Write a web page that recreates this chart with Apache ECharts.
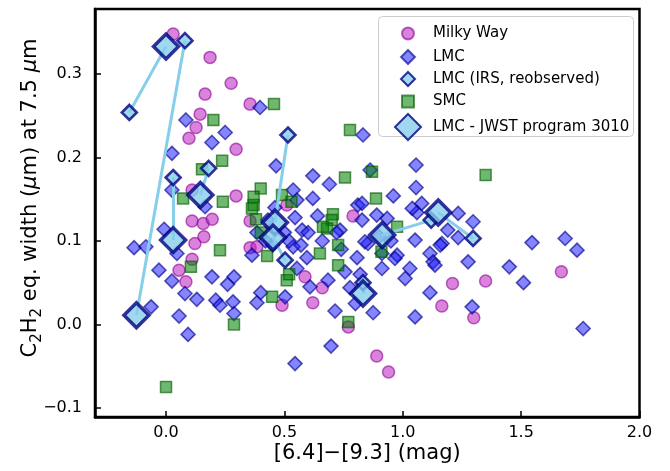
<!DOCTYPE html>
<html><head><meta charset="utf-8">
<script src="https://cdn.jsdelivr.net/npm/echarts@6/dist/echarts.min.js"></script>
<style>html,body{margin:0;padding:0;background:#fff}#c{width:670px;height:471px}</style>
</head><body><div id="c"></div>
<script>
// Tick values
const xTicks = [0.0, 0.5, 1.0, 1.5, 2.0];
const yTicks = [-0.1, 0.0, 0.1, 0.2, 0.3];

// Milky Way
const mwX = [0.03,0.186,0.275,0.165,0.355,0.144,0.127,0.097,0.296,0.11,0.296,0.11,0.157,0.195,0.122,0.16,0.11,0.055,0.084,0.355,0.355,0.49,0.51,0.79,0.384,0.587,0.66,0.62,0.77,0.89,0.94,1.21,1.165,1.30,1.35,1.67];
const mwY = [0.348,0.32,0.289,0.276,0.264,0.252,0.236,0.223,0.21,0.161,0.154,0.124,0.121,0.126,0.097,0.105,0.078,0.065,0.051,0.124,0.092,0.023,0.143,0.13,0.093,0.057,0.044,0.026,-0.003,-0.038,-0.057,0.049,0.022,0.008,0.052,0.063];

// LMC
const lmcX = [0.397,0.084,0.025,0.194,0.25,0.465,0.025,0.165,-0.008,-0.135,-0.085,0.046,-0.03,0.025,0.08,0.13,-0.063,0.055,0.093,0.194,0.26,0.287,0.21,0.228,0.283,0.287,0.384,0.40,0.363,0.545,
  0.62,0.69,0.62,0.537,0.553,0.545,0.81,0.575,0.384,0.735,
  0.832,0.862,1.056,1.056,0.96,0.828,1.06,1.234,1.297,0.89,0.853,0.976,0.807,1.052,1.115,1.166,1.19,1.128,1.276,0.537,0.595,0.756,
  1.04,1.08,0.828,0.934,
  0.84,1.158,1.234,0.912,0.967,1.03,0.912,1.01,1.136,1.115,1.293,0.875,1.052,
  0.553,0.608,0.503,0.714,0.684,0.777,0.8,0.697,
  1.546,1.686,1.736,1.45,1.51,1.762,
  0.5,0.52,0.57,0.6,0.45,0.42,0.64,0.66,0.72,0.74,0.82,0.9,0.95,0.46,0.43];
const lmcY = [0.26,0.245,0.205,0.218,0.23,0.19,0.161,0.141,0.114,0.092,0.093,0.085,0.065,0.052,0.037,0.03,0.021,0.01,-0.012,0.057,0.048,0.057,0.029,0.023,0.027,0.013,0.026,0.038,0.083,-0.047,
  0.178,0.168,0.151,0.161,0.149,0.128,0.143,0.113,0.11,0.113,
  0.227,0.185,0.191,0.164,0.154,0.145,0.134,0.133,0.123,0.131,0.097,0.083,0.08,0.101,0.085,0.097,0.113,0.075,0.075,0.093,0.08,0.063,
  0.139,0.145,0.125,0.127,
  0.099,0.095,0.104,0.085,0.079,0.067,0.067,0.055,0.071,0.038,0.021,0.014,0.009,
  0.067,0.045,0.033,0.016,0.053,0.044,0.025,-0.026,
  0.098,0.103,0.089,0.069,0.05,-0.005,
  0.11,0.1,0.095,0.11,0.095,0.1,0.13,0.1,0.11,0.09,0.06,0.105,0.1,0.14,0.125];

// SMC
const smcX = [0.2,0.456,0.237,0.152,0.072,0.24,0.40,0.37,0.49,0.37,0.38,0.228,0.105,0.427,0.448,0.287,0.0,0.51,0.756,0.363,0.53,0.705,0.70,0.68,0.777,0.87,0.887,0.663,0.727,0.65,0.976,0.91,0.727,1.35,0.52,0.77,0.4];
const smcY = [0.245,0.264,0.196,0.186,0.151,0.147,0.163,0.153,0.155,0.143,0.126,0.089,0.069,0.082,0.033,0.0,-0.075,0.053,0.176,0.139,0.147,0.132,0.125,0.115,0.233,0.183,0.151,0.117,0.095,0.085,0.117,0.087,0.071,0.179,0.06,0.003,0.11];

// LMC (IRS, reobserved) and matching JWST program 3010 sources (same order)
const irsX = [-0.155,0.08,0.03,0.18,0.515,0.503,0.832,1.12,1.297];
const irsY = [0.254,0.34,0.176,0.187,0.227,0.077,0.05,0.125,0.103];
const jwstX = [0.0,-0.125,0.03,0.145,0.46,0.452,0.832,0.913,1.15];
const jwstY = [0.333,0.011,0.101,0.155,0.122,0.104,0.037,0.107,0.134];

const zip = (a, b) => a.map((v, i) => [v, b[i]]);
const FONT = 'DejaVu Sans';
const fmt = v => v.toFixed(1).replace('-', '\u2212');

const S = {
  mw: { color: 'rgba(190,40,195,0.72)', borderColor: 'rgba(140,0,150,0.75)', borderWidth: 1.5 },
  lmc: { color: 'rgba(30,30,255,0.68)', borderColor: 'rgba(0,0,139,0.8)', borderWidth: 1.6 },
  smc: { color: 'rgba(0,128,0,0.7)', borderColor: 'rgba(0,90,0,0.8)', borderWidth: 1.5 },
  irs: { color: '#87CEEB', borderColor: '#000080', borderWidth: 2.6 },
  jwst: { color: '#87CEEB', borderColor: '#000080', borderWidth: 3.5 }
};

const legendRow = (name, top, w) => ({
  data: [name], orient: 'vertical', left: 402 - w / 2, top: top,
  itemWidth: w, itemHeight: w, selectedMode: false, z: 20,
  textStyle: { fontFamily: FONT, fontSize: 15, color: '#000', padding: [0, 0, 0, 20 - w / 2] }
});

const LBL = 21;
const chart = echarts.init(document.getElementById('c'), null, { renderer: 'canvas' });
chart.setOption({
  animation: false,
  backgroundColor: '#fff',
  grid: { left: 95, right: 30.5, top: 9, bottom: 54, show: true, borderColor: '#000', borderWidth: 2.5, backgroundColor: 'transparent' },
  xAxis: {
    type: 'value', min: -0.3, max: 2.0,
    name: '[6.4]\u2212[9.3] (mag)', nameLocation: 'middle', nameGap: 26, nameMoveOverlap: false,
    nameTextStyle: { fontFamily: FONT, fontSize: LBL, color: '#000' },
    axisLine: { onZero: false, lineStyle: { color: '#000', width: 2.5 } },
    axisTick: { inside: true, length: 6, lineStyle: { color: '#000', width: 1.5 }, customValues: xTicks },
    axisLabel: { fontFamily: FONT, fontSize: 16, color: '#000', margin: 8, customValues: xTicks, formatter: v => fmt(v) },
    splitLine: { show: false }
  },
  yAxis: {
    type: 'value', min: -0.111, max: 0.378,
    name: '{n|C}{s|2}{n|H}{s|2}{n| eq. width (}{i|\u03bc}{n|m) at 7.5 }{i|\u03bc}{n|m}',
    nameLocation: 'middle', nameGap: 50, nameRotate: 90, nameMoveOverlap: false,
    nameTextStyle: { fontFamily: FONT, fontSize: LBL, color: '#000', padding: [0, 0, 0, 30],
      rich: {
        n: { fontFamily: FONT, fontSize: LBL, color: '#000', lineHeight: 28, verticalAlign: 'middle' },
        i: { fontFamily: FONT, fontSize: LBL, fontStyle: 'italic', color: '#000', lineHeight: 28, verticalAlign: 'middle' },
        s: { fontFamily: FONT, fontSize: 15, color: '#000', lineHeight: 15, verticalAlign: 'bottom' }
      } },
    axisLine: { onZero: false, lineStyle: { color: '#000', width: 2.5 } },
    axisTick: { inside: true, length: 6, lineStyle: { color: '#000', width: 1.5 }, customValues: yTicks },
    axisLabel: { fontFamily: FONT, fontSize: 16, color: '#000', margin: 13, customValues: yTicks, formatter: v => fmt(v) },
    splitLine: { show: false }
  },
  legend: [
    legendRow('Milky Way', 21, 12),
    legendRow('LMC', 44, 14),
    legendRow('LMC (IRS, reobserved)', 66, 14),
    legendRow('SMC', 89, 12),
    legendRow('LMC - JWST program 3010', 108, 26)
  ],
  graphic: [{
    type: 'rect', z: 15, left: 378, top: 16,
    shape: { width: 255, height: 120, r: 4 },
    style: { fill: 'rgba(255,255,255,0.8)', stroke: '#cccccc', lineWidth: 1 }
  }],
  series: [
    { name: 'Milky Way', type: 'scatter', symbol: 'circle', symbolSize: 12, z: 2, itemStyle: S.mw, data: zip(mwX, mwY) },
    { name: 'LMC', type: 'scatter', symbol: 'diamond', symbolSize: 14, z: 3, itemStyle: S.lmc, data: zip(lmcX, lmcY) },
    { name: 'SMC', type: 'scatter', symbol: 'rect', symbolSize: 11, z: 4, itemStyle: S.smc, data: zip(smcX, smcY) },
    { name: 'links', type: 'lines', coordinateSystem: 'cartesian2d', z: 5, silent: true,
      lineStyle: { color: '#87CEEB', width: 3, opacity: 1, curveness: 0 },
      data: irsX.map((v, i) => ({ coords: [[v, irsY[i]], [jwstX[i], jwstY[i]]] })) },
    { name: 'LMC (IRS, reobserved)', type: 'scatter', symbol: 'diamond', symbolSize: 15, z: 6, itemStyle: S.irs, data: zip(irsX, irsY) },
    { name: 'LMC - JWST program 3010', type: 'scatter', symbol: 'diamond', symbolSize: 25, z: 7, itemStyle: S.jwst, data: zip(jwstX, jwstY) }
  ]
});
</script></body></html>
